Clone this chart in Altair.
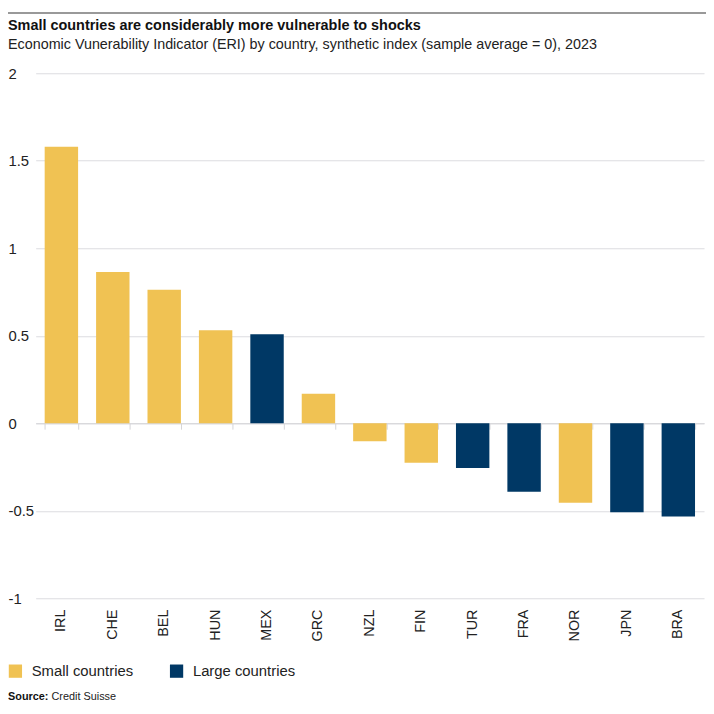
import altair as alt
import pandas as pd

countries = ["IRL", "CHE", "BEL", "HUN", "MEX", "GRC", "NZL", "FIN", "TUR", "FRA", "NOR", "JPN", "BRA"]
values = [1.58, 0.864, 0.763, 0.531, 0.508, 0.169, -0.103, -0.226, -0.256, -0.392, -0.454, -0.508, -0.533]
groups = ["Small countries", "Small countries", "Small countries", "Small countries", "Large countries",
          "Small countries", "Small countries", "Small countries", "Large countries", "Large countries",
          "Small countries", "Large countries", "Large countries"]
group_order = ["Small countries", "Large countries"]
group_colors = ["#F0C253", "#003865"]
y_ticks = [2, 1.5, 1, 0.5, 0, -0.5, -1]

title = "Small countries are considerably more vulnerable to shocks"
subtitle = "Economic Vunerability Indicator (ERI) by country, synthetic index (sample average = 0), 2023"

FONT = "Liberation Sans"
W, H = 676, 531
ZERO_PX = 354

df = pd.DataFrame({"country": countries, "value": values, "group": groups})

xscale = alt.Scale(domain=countries, paddingInner=0.35, paddingOuter=0.175)
yscale = alt.Scale(domain=[-1, 2], nice=False)

base = alt.Chart(df)

bars = base.mark_bar(strokeWidth=0).encode(
    x=alt.X("country:N", sort=countries, scale=xscale,
            axis=alt.Axis(title=None, orient="bottom", labelAngle=-90, labelFontSize=14.5,
                          labelColor="#222", labelFont=FONT, ticks=False, domain=False,
                          labelPadding=11)),
    y=alt.Y("value:Q", scale=yscale,
            axis=alt.Axis(title=None, values=y_ticks, labelExpr="toString(datum.value)",
                          labelFontSize=15, labelColor="#222", labelFont=FONT, labelAlign="left",
                          labelPadding=28, ticks=False, domain=False, gridColor="#dcdce0",
                          gridWidth=1.2, labelBaseline="middle")),
    color=alt.Color("group:N", scale=alt.Scale(domain=group_order, range=group_colors),
                    legend=alt.Legend(title=None, orient="none", legendX=-28, legendY=597,
                                      direction="horizontal", symbolType="square", symbolSize=180,
                                      symbolStrokeWidth=0, labelFontSize=15, labelFont=FONT,
                                      labelColor="#222", columnPadding=36, labelOffset=9)),
)

zero_axis = base.mark_bar(opacity=0).encode(
    x=alt.X("country:N", sort=countries, scale=xscale,
            axis=alt.Axis(title=None, orient="bottom", labels=False, ticks=True, tickBand="extent",
                          tickSize=6, tickColor="#d4d4d8", domain=True, domainColor="#d4d4d8",
                          domainWidth=1.2, offset=-(H - ZERO_PX), grid=False)),
    y=alt.Y("value:Q", scale=yscale),
)

one = pd.DataFrame({"a": [0]})
topline = alt.Chart(one).mark_rule(color="#777", strokeWidth=1.5).encode(
    x=alt.value(-28), x2=alt.value(W + 2), y=alt.value(-61)
)
t1 = alt.Chart(pd.DataFrame({"t": [title]})).mark_text(
    align="left", baseline="alphabetic", fontSize=14.6, fontWeight="bold", font=FONT, color="#111"
).encode(text="t:N", x=alt.value(-28), y=alt.value(-44))
t2 = alt.Chart(pd.DataFrame({"t": [subtitle]})).mark_text(
    align="left", baseline="alphabetic", fontSize=14.5, font=FONT, color="#222"
).encode(text="t:N", x=alt.value(-28), y=alt.value(-25))
src1 = alt.Chart(pd.DataFrame({"t": ["Source:"]})).mark_text(
    align="left", baseline="alphabetic", fontSize=11, fontWeight="bold", font=FONT, color="#111"
).encode(text="t:N", x=alt.value(-28), y=alt.value(634))
src2 = alt.Chart(pd.DataFrame({"t": ["Credit Suisse"]})).mark_text(
    align="left", baseline="alphabetic", fontSize=11, font=FONT, color="#222"
).encode(text="t:N", x=alt.value(16), y=alt.value(634))

chart = alt.layer(bars, zero_axis, topline, t1, t2, src1, src2).resolve_axis(
    x="independent"
).properties(
    width=W, height=H,
    autosize=alt.AutoSizeParams(type="none"),
    padding={"left": 28, "top": 62, "right": 2, "bottom": 105},
).configure(background="white").configure_view(strokeWidth=0, stroke=None)

chart.save("out.html", embed_options={"renderer": "svg", "actions": False})
